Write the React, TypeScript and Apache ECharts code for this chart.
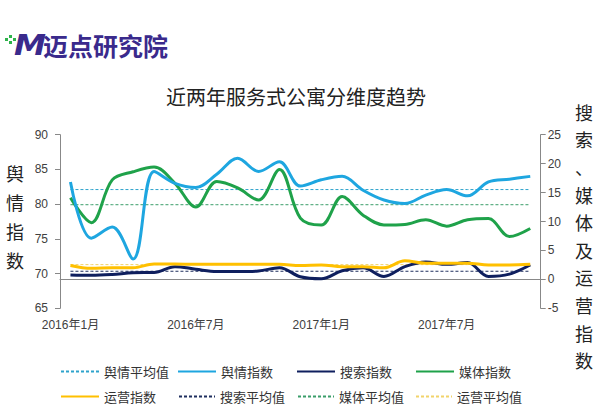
import React, { useEffect, useRef } from "react";
import * as echarts from "echarts";

const categories = [
  "2016年1月", "2016年2月", "2016年3月", "2016年4月", "2016年5月", "2016年6月",
  "2016年7月", "2016年8月", "2016年9月", "2016年10月", "2016年11月", "2016年12月",
  "2017年1月", "2017年2月", "2017年3月", "2017年4月", "2017年5月", "2017年6月",
  "2017年7月", "2017年8月", "2017年9月", "2017年10月", "2017年11月",
];

// 舆情指数 (left axis)
const yuqing = [83.2, 75.1, 76.7, 72.1, 84.7, 83.0, 82.4, 84.3, 86.6, 84.7, 86.1, 82.6, 83.5, 84.0, 82.0, 80.6, 80.1, 81.3, 82.1, 81.2, 83.2, 83.6, 84.0];
// 搜索指数 (right axis)
const sousuo = [0.75, 0.7, 0.85, 1.15, 1.2, 2.2, 1.75, 1.35, 1.35, 1.45, 2.0, 0.45, 0.1, 1.5, 2.0, 0.5, 2.2, 3.0, 2.6, 2.9, 0.5, 0.9, 2.5];
// 媒体指数 (right axis)
const meiti = [14.1, 9.8, 17.2, 18.6, 19.4, 16.6, 12.5, 16.9, 15.8, 13.7, 19.0, 10.6, 9.4, 14.3, 11.1, 9.4, 9.5, 10.3, 9.2, 10.3, 10.5, 7.4, 8.8];
// 运营指数 (right axis)
const yunying = [2.4, 1.9, 2.0, 2.0, 2.65, 2.65, 2.6, 2.6, 2.6, 2.6, 2.6, 2.4, 2.5, 2.2, 2.2, 2.0, 3.2, 2.8, 2.8, 2.8, 2.5, 2.5, 2.6];

// averages
const yuqingAvg = 82.1;
const sousuoAvg = 1.4;
const meitiAvg = 12.9;
const yunyingAvg = 2.55;

const leftTicks = { min: 65, max: 90, interval: 5 };
const rightTicks = { min: -5, max: 25, interval: 5 };

const FONT = '"Liberation Sans", "Noto Sans CJK SC", sans-serif';
const CJK = '"Noto Sans CJK SC", sans-serif';

const C_BLUE = "#1EA6E0";
const C_NAVY = "#0F1F5E";
const C_GREEN = "#1FA24A";
const C_YELLOW = "#FFC000";
const C_BLUE_AVG = "#2EA3CC";
const C_NAVY_AVG = "#1F2F5F";
const C_GREEN_AVG = "#3A9E6A";
const C_YELLOW_AVG = "#F2D36A";
const PURPLE = "#3A2A8C";

export default function App() {
  const ref = useRef<HTMLDivElement>(null);
  useEffect(() => {
    document.body.style.margin = "0";
    if (!ref.current) return;
    const chart = echarts.init(ref.current, undefined, { renderer: "svg" });
    const avgLine = (name: string, v: number, color: string, axis: number) => ({
      name,
      type: "line",
      yAxisIndex: axis,
      data: categories.map(() => v),
      symbol: "none",
      lineStyle: { type: [3, 2], width: 1, color },
      itemStyle: { color },
      z: 1,
    });
    const mainLine = (name: string, data: number[], color: string, axis: number) => ({
      name,
      type: "line",
      yAxisIndex: axis,
      data,
      smooth: 0.35,
      symbol: "none",
      lineStyle: { width: 3, color },
      itemStyle: { color },
      z: 3,
    });
    const leg = (name: string, left: number, top: number, w: number) => ({
      data: [name],
      left,
      top: top - 7,
      padding: 0,
      itemWidth: w,
      itemHeight: 14,
      itemStyle: { color: "transparent", borderWidth: 0, opacity: 0 },
      textStyle: { fontSize: 13, color: "#333", fontFamily: CJK },
    });
    const textStyleAxis = { fontSize: 12, color: "#404040", fontFamily: FONT };
    chart.setOption({
      animation: false,
      grid: { left: 60, right: 59.3, top: 134.7, bottom: 97.7, containLabel: false },
      xAxis: {
        type: "category",
        data: categories,
        boundaryGap: true,
        axisLine: { lineStyle: { color: "#888", width: 1 } },
        axisTick: { interval: 5, length: 5, lineStyle: { color: "#888" } },
        axisLabel: { interval: 5, margin: 11, ...textStyleAxis },
        splitLine: { show: false },
      },
      yAxis: [
        {
          type: "value",
          position: "left",
          ...leftTicks,
          axisLine: { show: true, lineStyle: { color: "#888" } },
          axisTick: { show: true, length: 5, lineStyle: { color: "#888" } },
          axisLabel: { margin: 12, ...textStyleAxis },
          splitLine: { show: false },
        },
        {
          type: "value",
          position: "right",
          ...rightTicks,
          axisLine: { show: true, lineStyle: { color: "#888" } },
          axisTick: { show: true, length: 5, lineStyle: { color: "#888" } },
          axisLabel: { margin: 7, ...textStyleAxis },
          splitLine: { show: false },
        },
      ],
      legend: [
        leg("舆情平均值", 60, 372, 38),
        leg("舆情指数", 177, 372, 38),
        leg("搜索指数", 296, 372, 38),
        leg("媒体指数", 415, 372, 38),
        leg("运营指数", 60, 397, 38),
        leg("搜索平均值", 178, 397, 36),
        leg("媒体平均值", 297, 397, 36),
        leg("运营平均值", 415, 397, 36),
      ],
      series: [
        avgLine("舆情平均值", yuqingAvg, C_BLUE_AVG, 0),
        avgLine("搜索平均值", sousuoAvg, C_NAVY_AVG, 1),
        avgLine("媒体平均值", meitiAvg, C_GREEN_AVG, 1),
        avgLine("运营平均值", yunyingAvg, C_YELLOW_AVG, 1),
        mainLine("媒体指数", meiti, C_GREEN, 1),
        mainLine("舆情指数", yuqing, C_BLUE, 0),
        mainLine("搜索指数", sousuo, C_NAVY, 1),
        mainLine("运营指数", yunying, C_YELLOW, 1),
      ],
      graphic: [
        // logo
        { type: "rect", shape: { x: 5, y: 38, width: 3, height: 3 }, style: { fill: "#2DB34A" } },
        { type: "rect", shape: { x: 9, y: 35, width: 3, height: 3 }, style: { fill: "#2DB34A" } },
        { type: "rect", shape: { x: 9, y: 41, width: 3, height: 3 }, style: { fill: "#2DB34A" } },
        { type: "rect", shape: { x: 13, y: 38, width: 3, height: 3 }, style: { fill: "#2DB34A" } },
        {
          type: "text",
          x: 14,
          y: 45,
          scaleX: 1.15,
          style: {
            text: "M",
            fontSize: 28,
            fontWeight: 900,
            fontStyle: "italic",
            fontFamily: '"DejaVu Sans", sans-serif',
            fill: PURPLE,
            textVerticalAlign: "middle",
          },
        },
        {
          type: "text",
          x: 43,
          y: 45,
          style: {
            text: "迈点研究院",
            fontSize: 25,
            fontWeight: "bold",
            fontFamily: CJK,
            fill: PURPLE,
            textVerticalAlign: "middle",
          },
        },
        // title
        {
          type: "text",
          x: 296,
          y: 96,
          style: {
            text: "近两年服务式公寓分维度趋势",
            fontSize: 20,
            fontFamily: CJK,
            fill: "#222",
            textAlign: "center",
            textVerticalAlign: "middle",
          },
        },
        // left axis name
        {
          type: "text",
          x: 15,
          y: 158,
          style: {
            text: "舆\n情\n指\n数",
            fontSize: 18,
            lineHeight: 29,
            fontFamily: CJK,
            fill: "#222",
            textAlign: "center",
            textVerticalAlign: "top",
          },
        },
        // right axis name
        {
          type: "text",
          x: 584,
          y: 98,
          style: {
            text: "搜\n索\n、\n媒\n体\n及\n运\n营\n指\n数",
            fontSize: 18,
            lineHeight: 27.6,
            fontFamily: CJK,
            fill: "#222",
            textAlign: "center",
            textVerticalAlign: "top",
          },
        },
      ],
    });
    return () => chart.dispose();
  }, []);
  return <div ref={ref} style={{ width: 600, height: 406 }} />;
}
